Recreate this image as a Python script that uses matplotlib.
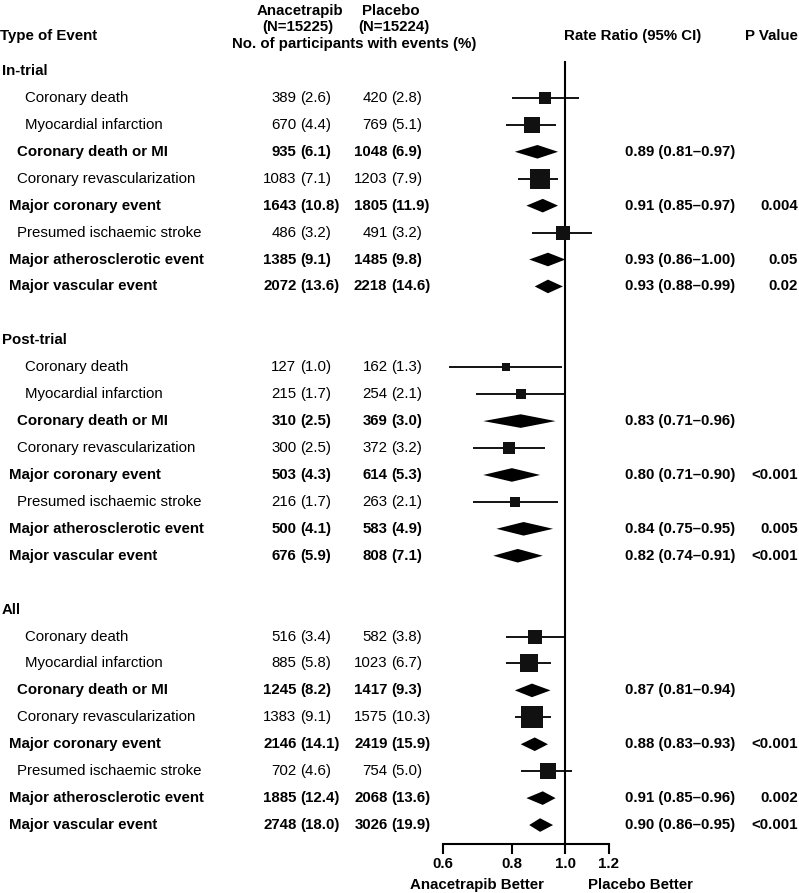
import matplotlib.pyplot as plt
from matplotlib.ticker import NullLocator
import numpy as np

plt.rcParams['font.family'] = ['Liberation Sans', 'DejaVu Sans']
plt.rcParams['font.size'] = 10.8

# Data -------------------------------------------------------------------------------------------------
sections = ['In-trial', 'Post-trial', 'All']
events = ['Coronary death', 'Myocardial infarction', 'Coronary death or MI',
          'Coronary revascularization', 'Major coronary event', 'Presumed ischaemic stroke',
          'Major atherosclerotic event', 'Major vascular event']
composite = [False, False, True, False, True, False, True, True]

ana_n = [[389, 670, 935, 1083, 1643, 486, 1385, 2072],
         [127, 215, 310, 300, 503, 216, 500, 676],
         [516, 885, 1245, 1383, 2146, 702, 1885, 2748]]
ana_pct = [[2.6, 4.4, 6.1, 7.1, 10.8, 3.2, 9.1, 13.6],
           [1.0, 1.7, 2.5, 2.5, 4.3, 1.7, 4.1, 5.9],
           [3.4, 5.8, 8.2, 9.1, 14.1, 4.6, 12.4, 18.0]]
pla_n = [[420, 769, 1048, 1203, 1805, 491, 1485, 2218],
         [162, 254, 369, 372, 614, 263, 583, 808],
         [582, 1023, 1417, 1575, 2419, 754, 2068, 3026]]
pla_pct = [[2.8, 5.1, 6.9, 7.9, 11.9, 3.2, 9.8, 14.6],
           [1.3, 2.1, 3.0, 3.2, 5.3, 2.1, 4.9, 7.1],
           [3.8, 6.7, 9.3, 10.3, 15.9, 5.0, 13.6, 19.9]]

# rate ratios and 95% CI (non-composite values)
rr = [[0.92, 0.87, 0.89, 0.90, 0.91, 0.99, 0.93, 0.93],
      [0.78, 0.83, 0.83, 0.79, 0.80, 0.81, 0.84, 0.82],
      [0.88, 0.86, 0.87, 0.87, 0.88, 0.93, 0.91, 0.90]]
ci_lo = [[0.80, 0.78, 0.81, 0.82, 0.85, 0.87, 0.86, 0.88],
         [0.615, 0.69, 0.71, 0.68, 0.71, 0.68, 0.75, 0.74],
         [0.78, 0.78, 0.81, 0.81, 0.83, 0.83, 0.85, 0.86]]
ci_hi = [[1.06, 0.96, 0.97, 0.97, 0.97, 1.12, 1.00, 0.99],
         [0.985, 1.00, 0.96, 0.92, 0.90, 0.97, 0.95, 0.91],
         [1.00, 0.94, 0.94, 0.94, 0.93, 1.03, 0.96, 0.95]]
p_values = [['', '', '', '', '0.004', '', '0.05', '0.02'],
            ['', '', '', '', '<0.001', '', '0.005', '<0.001'],
            ['', '', '', '', '<0.001', '', '0.002', '<0.001']]

x_ticks = [0.6, 0.8, 1.0, 1.2]

# Layout (pixels) --------------------------------------------------------------------------------------
W, H = 799, 893
row0, step = 71, 26.93
indent = [25, 25, 17, 17, 9, 17, 9, 9]
ana_x, pla_x = 296.5, 387.5
rr_x, p_x = 625, 798

fig = plt.figure(figsize=(W / 100, H / 100), dpi=100)
ax_t = fig.add_axes([0, 0, 1, 1])
ax_t.set_xlim(0, W)
ax_t.set_ylim(H, 0)
ax_t.axis('off')

ax = fig.add_axes([443 / W, 1 - 844 / H, 166 / W, (844 - 61) / H])
ax.set_xscale('log')
ax.set_xlim(0.6, 1.2)
ax.set_ylim(844, 61)
ax.patch.set_alpha(0)

# Header
ax_t.text(0, 36, 'Type of Event', fontweight='bold', ha='left', va='center')
ax_t.text(300, 11, 'Anacetrapib', fontweight='bold', ha='center', va='center')
ax_t.text(298, 27, '(N=15225)', fontweight='bold', ha='center', va='center')
ax_t.text(391, 11, 'Placebo', fontweight='bold', ha='center', va='center')
ax_t.text(394, 27, '(N=15224)', fontweight='bold', ha='center', va='center')
ax_t.text(354, 44, 'No. of participants with events (%)', fontweight='bold', ha='center', va='center')
ax_t.text(633, 36, 'Rate Ratio (95% CI)', fontweight='bold', ha='center', va='center')
ax_t.text(p_x, 36, 'P Value', fontweight='bold', ha='right', va='center')

# Rows
row = 0
for s, sec in enumerate(sections):
    y = row0 + step * row
    ax_t.text(2, y, sec, fontweight='bold', ha='left', va='center')
    row += 1
    for k, ev in enumerate(events):
        y = row0 + step * row
        fw = 'bold' if composite[k] else 'normal'
        ax_t.text(indent[k], y, ev, fontweight=fw, ha='left', va='center')
        ax_t.text(ana_x, y, str(ana_n[s][k]), fontweight=fw, ha='right', va='center')
        ax_t.text(ana_x + 3.5, y, '(%.1f)' % ana_pct[s][k], fontweight=fw, ha='left', va='center')
        ax_t.text(pla_x, y, str(pla_n[s][k]), fontweight=fw, ha='right', va='center')
        ax_t.text(pla_x + 3.5, y, '(%.1f)' % pla_pct[s][k], fontweight=fw, ha='left', va='center')

        r, lo, hi = rr[s][k], ci_lo[s][k], ci_hi[s][k]
        if composite[k]:
            ax.fill([lo, r, hi, r], [y, y - 6.8, y, y + 6.8], color='black', lw=0, zorder=3)
            ax_t.text(rr_x, y, '%.2f (%.2f\u2013%.2f)' % (r, lo, hi), fontweight='bold', ha='left', va='center')
            ax_t.text(p_x, y, p_values[s][k], fontweight='bold', ha='right', va='center')
        else:
            ax.hlines(y, lo, hi, color='black', lw=1.3, zorder=2)
            # square area roughly proportional to number of events
            side = (0.40 * np.sqrt(ana_n[s][k] + pla_n[s][k]) + 0.7) * 0.72
            ax.scatter([r], [y], marker='s', s=side ** 2, color='#111111', lw=0, zorder=3)
        row += 1
    row += 1

# Axis
ax.axvline(1.0, color='black', lw=1.5, zorder=1)
for sp in ['top', 'right', 'left']:
    ax.spines[sp].set_visible(False)
ax.spines['bottom'].set_linewidth(1.5)
ax.set_yticks([])
ax.set_xticks(x_ticks)
ax.set_xticklabels(['%.1f' % t for t in x_ticks], fontweight='bold')
ax.xaxis.set_minor_locator(NullLocator())
ax.tick_params(axis='x', direction='out', length=7.5, width=1.5, pad=2, labelsize=10.8)

ax_t.text(477, 885, 'Anacetrapib Better', fontweight='bold', ha='center', va='center')
ax_t.text(640, 885, 'Placebo Better', fontweight='bold', ha='center', va='center')

fig.savefig('out.png', dpi=100)
